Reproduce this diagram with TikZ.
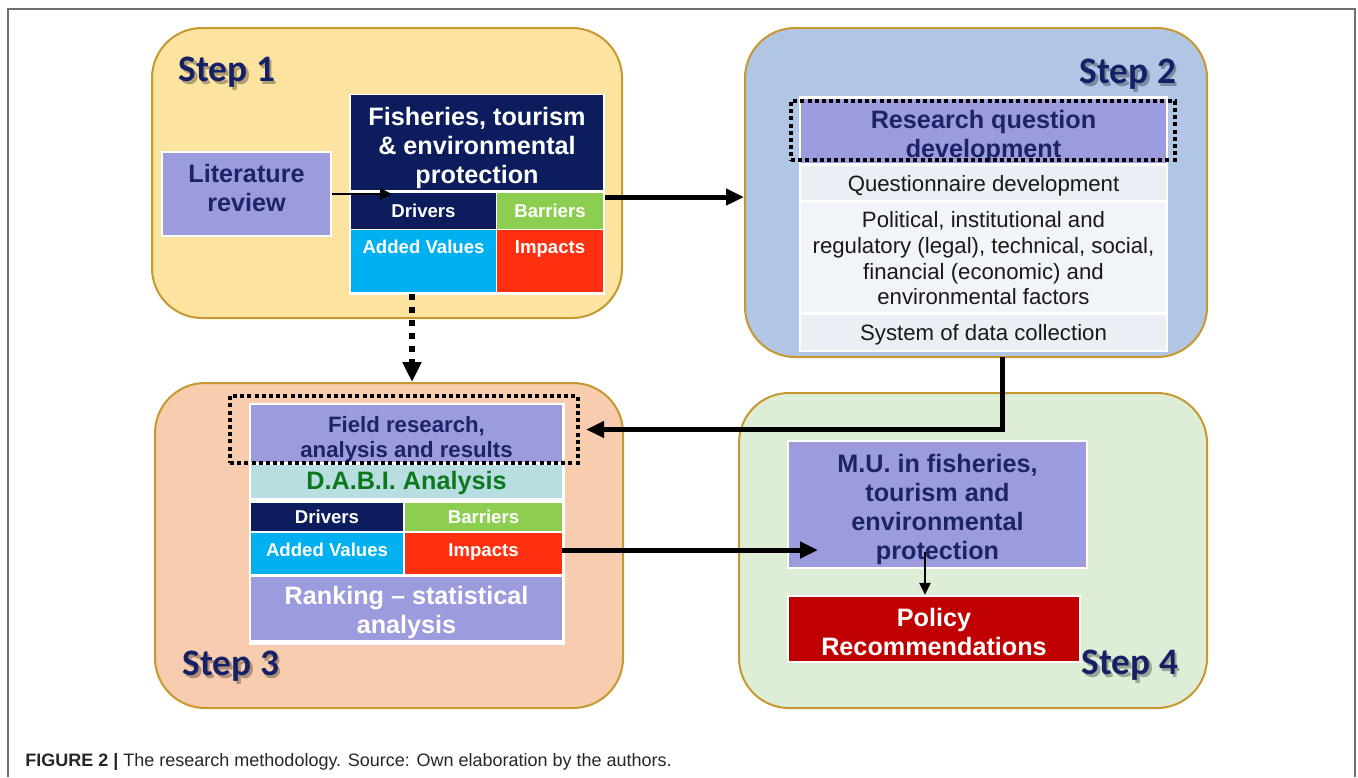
\documentclass[tikz,border=0pt]{standalone}
\usepackage{fontspec}
\setmainfont{Liberation Sans}
\newfontfamily\stepfont{Carlito}
\usepackage{tikz}
\usetikzlibrary{arrows.meta,shapes}
\definecolor{yellowbg}{RGB}{252,227,160}
\definecolor{bluebg}{RGB}{177,197,228}
\definecolor{peachbg}{RGB}{248,204,174}
\definecolor{greenbg}{RGB}{222,238,214}
\definecolor{stepborder}{RGB}{198,152,48}
\definecolor{lilac}{RGB}{155,155,222}
\definecolor{navy}{RGB}{12,28,92}
\definecolor{navytext}{RGB}{28,36,104}
\definecolor{grass}{RGB}{140,206,80}
\definecolor{sky}{RGB}{0,176,240}
\definecolor{flame}{RGB}{255,48,16}
\definecolor{wine}{RGB}{192,0,0}
\definecolor{aqua}{RGB}{184,222,226}
\definecolor{forest}{RGB}{12,120,30}
\definecolor{rowa}{RGB}{233,239,245}
\definecolor{rowb}{RGB}{241,245,250}
\definecolor{steptext}{RGB}{22,32,102}
\definecolor{framegray}{RGB}{110,110,110}
\tikzstyle{step box}=[draw=stepborder,line width=1pt,rounded corners=25pt,inner sep=0pt]
\tikzstyle{step label}=[font=\stepfont\bfseries\fontsize{18.7}{20}\selectfont,text=steptext,inner sep=0pt]
\tikzstyle{step shadow}=[step label,text=black,opacity=0.3]
\tikzstyle{cell}=[inner sep=0pt,align=center,font=\bfseries\fontsize{12.6}{14.5}\selectfont]
\tikzstyle{small cell}=[cell,text=white,font=\bfseries\fontsize{9.3}{11}\selectfont]
\tikzstyle{row}=[inner sep=0pt,align=center,text=black!90,font=\fontsize{11.1}{12.85}\selectfont]
\tikzstyle{dotted frame}=[draw=black,line width=2pt,dash pattern=on 2pt off 1.6pt,inner sep=0pt]
\tikzstyle{thick arrow}=[draw,line width=2.5pt,-{Triangle[length=9pt,width=8pt]}]
\tikzstyle{thin arrow}=[draw,line width=1.4pt,-{Triangle[length=6pt,width=5.5pt]}]

\begin{document}
\begin{tikzpicture}[x=0.5pt,y=-0.5pt]
    \useasboundingbox (0,0) rectangle (1358,777);
    % Frame of the figure
    \draw[framegray,line width=1pt] (8,777) -- (8,9) -- (1355,9) -- (1355,777);

    % First we draw the four step boxes
    \node[step box,fill=yellowbg,minimum width=235pt,minimum height=145pt] (step1) at (387,173) {};
    \node[step box,fill=bluebg,minimum width=231pt,minimum height=164.5pt] (step2) at (976,192.5) {};
    \node[step box,fill=peachbg,minimum width=234pt,minimum height=162.5pt] (step3) at (389,545.5) {};
    \node[step box,fill=greenbg,minimum width=234pt,minimum height=157.5pt] (step4) at (973,550.5) {};

    \foreach \x/\y/\name/\txt in {227/72/lab1/Step 1, 1128/74/lab2/Step 2, 231/666/lab3/Step 3, 1130/665/lab4/Step 4}
    {
        \node[step shadow] (\name s) at (\x+2.5,\y+3) {\txt};
        \node[step label] (\name) at (\x,\y) {\txt};
    }

    % Step 1
    \node[cell,fill=lilac,draw=white,line width=1.2pt,text=navytext,text depth=6pt,minimum width=84.5pt,minimum height=42pt] (litrev) at (246.5,194) {Literature\\review};
    \node[fill=white,inner sep=0pt,minimum width=128pt,minimum height=100.5pt] (stack1) at (477,194) {};
    \node[cell,fill=navy,text=white,text depth=0pt,minimum width=126pt,minimum height=47.5pt] (fish) at (477,142.5) {\rule{0pt}{12.2pt}Fisheries, tourism\\\& environmental\\protection};
    \node[small cell,fill=navy,minimum width=72.5pt,minimum height=18pt] (drv1) at (423.5,211) {Drivers};
    \node[small cell,fill=grass,minimum width=53pt,minimum height=18pt] (bar1) at (550,211) {Barriers};
    \node[small cell,fill=sky,minimum width=72.5pt,text height=11.5pt,text depth=19.5pt] (add1) at (423.5,261) {Added Values};
    \node[small cell,fill=flame,minimum width=53pt,text height=11.5pt,text depth=19.5pt] (imp1) at (550,261) {Impacts};

    % Step 2
    \node[fill=white,inner sep=0pt,minimum width=184.5pt,minimum height=128pt] (table2) at (983.5,224) {};
    \node[cell,fill=lilac,text=navytext,text depth=0pt,minimum width=182.5pt,minimum height=32pt] (rq) at (983.5,131) {\rule{0pt}{12.2pt}Research question\\development};
    \node[row,fill=rowa,text depth=0pt,minimum width=182.5pt,minimum height=17pt] (qd) at (983.5,183) {Questionnaire development};
    \node[row,fill=rowb,minimum width=182.5pt,minimum height=55pt] (pol) at (983.5,257) {\rule{0pt}{9.5pt}Political, institutional and\\regulatory (legal), technical, social,\\financial (economic) and\\environmental factors};
    \node[row,fill=rowa,text depth=0.3pt,minimum width=182.5pt,minimum height=17.5pt] (sys) at (983.5,332.5) {System of data collection};
    \node[dotted frame,minimum width=192pt,minimum height=29.5pt] (rqdot) at (983,130.5) {};

    % Step 3
    \node[fill=white,inner sep=0pt,minimum width=158pt,minimum height=121pt] (stack3) at (407,524) {};
    \node[cell,fill=lilac,text=navytext,text depth=0pt,font=\bfseries\fontsize{11.1}{12.5}\selectfont,minimum width=155.5pt,minimum height=28.5pt] (fr) at (406.5,433.5) {\rule{0pt}{11.1pt}Field research,\\analysis and results};
    \node[cell,fill=aqua,text=forest,text depth=0.7pt,minimum width=155.5pt,minimum height=16.5pt] (dabi) at (406.5,481.5) {D.A.B.I. Analysis};
    \node[small cell,fill=navy,minimum width=76pt,minimum height=14pt] (drv3) at (327,517) {Drivers};
    \node[small cell,fill=grass,minimum width=78.5pt,minimum height=14pt] (bar3) at (483.5,517) {Barriers};
    \node[small cell,fill=sky,minimum width=76pt,text height=11.5pt,text depth=9pt] (add3) at (327,553.5) {Added Values};
    \node[small cell,fill=flame,minimum width=78.5pt,text height=11.5pt,text depth=9pt] (imp3) at (483.5,553.5) {Impacts};
    \node[cell,fill=lilac,text=white,text depth=0pt,minimum width=155.5pt,minimum height=31.5pt] (rank) at (406.5,608.5) {\rule{0pt}{10.7pt}Ranking -- statistical\\analysis};
    \node[dotted frame,minimum width=174pt,minimum height=33.5pt] (frdot) at (404,429.5) {};

    % Step 4
    \node[cell,fill=lilac,draw=white,line width=1.2pt,text=navytext,text depth=0pt,minimum width=149.5pt,minimum height=63.5pt] (mu) at (937.5,504.5) {\rule{0pt}{11.7pt}M.U. in fisheries,\\tourism and\\environmental\\protection};
    \node[cell,fill=wine,draw=white,line width=1.2pt,text=white,text depth=0pt,minimum width=146pt,minimum height=33pt] (policy) at (934,629) {\rule{0pt}{11.7pt}Policy\\Recommendations};

    % Connect the steps with arrows
    \coordinate (lrtip) at (392,194);
    \coordinate (fishout) at (605,197);
    \coordinate (dropout) at (412,294);
    \coordinate (s2out) at (1002,357);
    \coordinate (muin) at (818,550);
    \coordinate (mutail) at (925,552);
    \path[thin arrow] (litrev.east) -- (lrtip);
    \path[thick arrow] (fishout) -- (fishout -| step2.west);
    \draw[line width=3pt,dash pattern=on 3pt off 3.5pt,-{Triangle[length=10pt,width=9pt]}] (dropout) -- (dropout |- step3.north);
    \path[thick arrow] (s2out) |- ([xshift=3pt]frdot.east);
    \path[thick arrow] (imp3.east |- muin) -- (muin);
    \path[thin arrow] (mutail) -- (mutail |- policy.north);

    % Caption
    \node[anchor=base west,inner sep=0pt,text=black!85,font=\fontsize{9}{11}\selectfont] (caption) at (25,766) {{\bfseries FIGURE 2 |} The research methodology. Source: Own elaboration by the authors.};
\end{tikzpicture}
\end{document}
